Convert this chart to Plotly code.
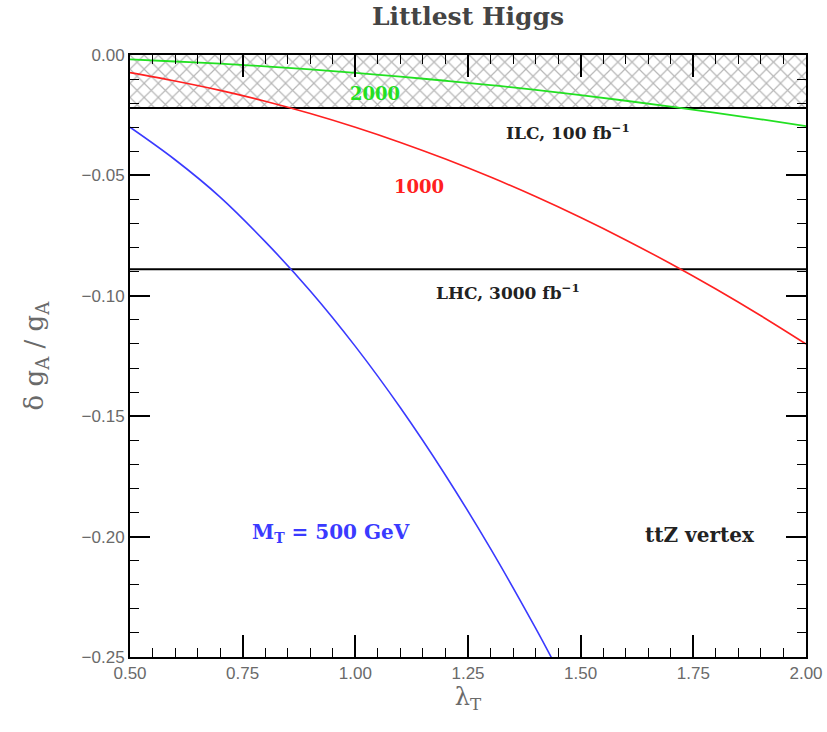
import plotly.graph_objects as go

# lambda_T grid
lam = [0.5, 0.6, 0.7, 0.8, 0.9, 1.0, 1.1, 1.2, 1.3, 1.4, 1.5, 1.6, 1.7, 1.8, 1.9, 2.0]
# M_T = 2000 GeV
g2000 = [-0.0018, -0.0027, -0.0036, -0.0047, -0.0060, -0.0074, -0.0090, -0.0107,
         -0.0125, -0.0145, -0.0167, -0.0190, -0.0214, -0.0240, -0.0267, -0.0295]
# M_T = 1000 GeV
g1000 = [-0.0073, -0.0108, -0.0147, -0.0192, -0.0243, -0.0300, -0.0363, -0.0432,
         -0.0507, -0.0588, -0.0675, -0.0768, -0.0867, -0.0972, -0.1083, -0.1200]
# M_T = 500 GeV
lam500 = [0.5, 0.6, 0.7, 0.8, 0.9, 1.0, 1.1, 1.2, 1.3, 1.4, 1.44]
g500 = [-0.030, -0.0435, -0.059, -0.0775, -0.098, -0.121, -0.1465, -0.1745, -0.205, -0.238, -0.252]

ilc_limit = -0.022
lhc_limit = -0.089
x_range = [0.5, 2.0]
y_range = [-0.25, 0.0]

fig = go.Figure()

# hatched ILC-excluded band
fig.add_trace(go.Scatter(
    x=[x_range[0], x_range[1], x_range[1], x_range[0], x_range[0]],
    y=[0, 0, ilc_limit, ilc_limit, 0],
    mode="lines", line=dict(width=0), fill="toself",
    fillcolor="rgba(255,255,255,0)",
    fillpattern=dict(shape="x", fgcolor="#6e6e6e", bgcolor="white", size=10, solidity=0.22),
    hoverinfo="skip", showlegend=False))

for yv in [ilc_limit, lhc_limit]:
    fig.add_trace(go.Scatter(x=x_range, y=[yv, yv], mode="lines",
                             line=dict(color="black", width=2),
                             showlegend=False, hoverinfo="skip"))

fig.add_trace(go.Scatter(x=lam, y=g2000, mode="lines", line=dict(color="#22e022", width=1.8, shape="spline"), showlegend=False))
fig.add_trace(go.Scatter(x=lam, y=g1000, mode="lines", line=dict(color="#ff2020", width=1.6, shape="spline"), showlegend=False))
fig.add_trace(go.Scatter(x=lam500, y=g500, mode="lines", line=dict(color="#3a3aff", width=1.6, shape="spline"), showlegend=False))

serif = "DejaVu Serif"
tickfont = dict(family="Liberation Sans", size=17, color="#6a6a6a")

fig.update_xaxes(range=x_range, tickvals=[0.5, 0.75, 1.0, 1.25, 1.5, 1.75, 2.0],
                 ticktext=["0.50", "0.75", "1.00", "1.25", "1.50", "1.75", "2.00"],
                 ticks="inside", ticklen=22, tickwidth=1.6, tickcolor="black",
                 minor=dict(ticks="inside", ticklen=9, tickwidth=1.4, tickcolor="black", dtick=0.05, tick0=0.5, showgrid=False),
                 showline=True, linecolor="black", linewidth=2, mirror="allticks",
                 showgrid=False, zeroline=False, tickfont=tickfont, automargin=False,
                 title=dict(text="λ<sub>T</sub>", font=dict(family=serif, size=24, color="#6a6a6a"), standoff=0))
fig.update_yaxes(range=y_range, tickvals=[0.0, -0.05, -0.10, -0.15, -0.20, -0.25],
                 ticktext=["0.00", "−0.05", "−0.10", "−0.15", "−0.20", "−0.25"],
                 ticks="inside", ticklen=20, tickwidth=1.6, tickcolor="black",
                 minor=dict(ticks="inside", ticklen=9, tickwidth=1.4, tickcolor="black", dtick=0.01, tick0=0, showgrid=False),
                 showline=True, linecolor="black", linewidth=2, mirror="allticks",
                 showgrid=False, zeroline=False, tickfont=tickfont, automargin=False,
                 title=dict(text="δ g<sub>A</sub> / g<sub>A</sub>", font=dict(family=serif, size=26, color="#6a6a6a"), standoff=30))

def ann(x, y, text, color, size=15, xref="x", yref="y"):
    fig.add_annotation(x=x, y=y, xref=xref, yref=yref, text=text, showarrow=False,
                       font=dict(family=serif, size=size, color=color))

ann(1.044, -0.0158, "<b>2000</b>", "#22e022", 18)
ann(1.141, -0.0548, "<b>1000</b>", "#ff2020", 18)
ann(0.946, -0.1985, "<b>M<sub>T</sub> = 500 GeV</b>", "#3a3aff", 20)
ann(1.765, -0.1993, "<b>ttZ vertex</b>", "#222222", 20)
ann(1.472, -0.0318, "<b>ILC, 100 fb<sup>−1</sup></b>", "#222222", 17)
ann(1.339, -0.0985, "<b>LHC, 3000 fb<sup>−1</sup></b>", "#222222", 17)
fig.add_annotation(x=0.5, y=1.0, xref="paper", yref="paper", yanchor="bottom", yshift=22,
                   text="<b>Littlest Higgs</b>", showarrow=False,
                   font=dict(family=serif, size=25, color="#444444"))

fig.update_layout(width=827, height=732, margin=dict(l=130, r=21, t=55, b=75),
                  plot_bgcolor="white", paper_bgcolor="white")

fig.write_html("out.html")
